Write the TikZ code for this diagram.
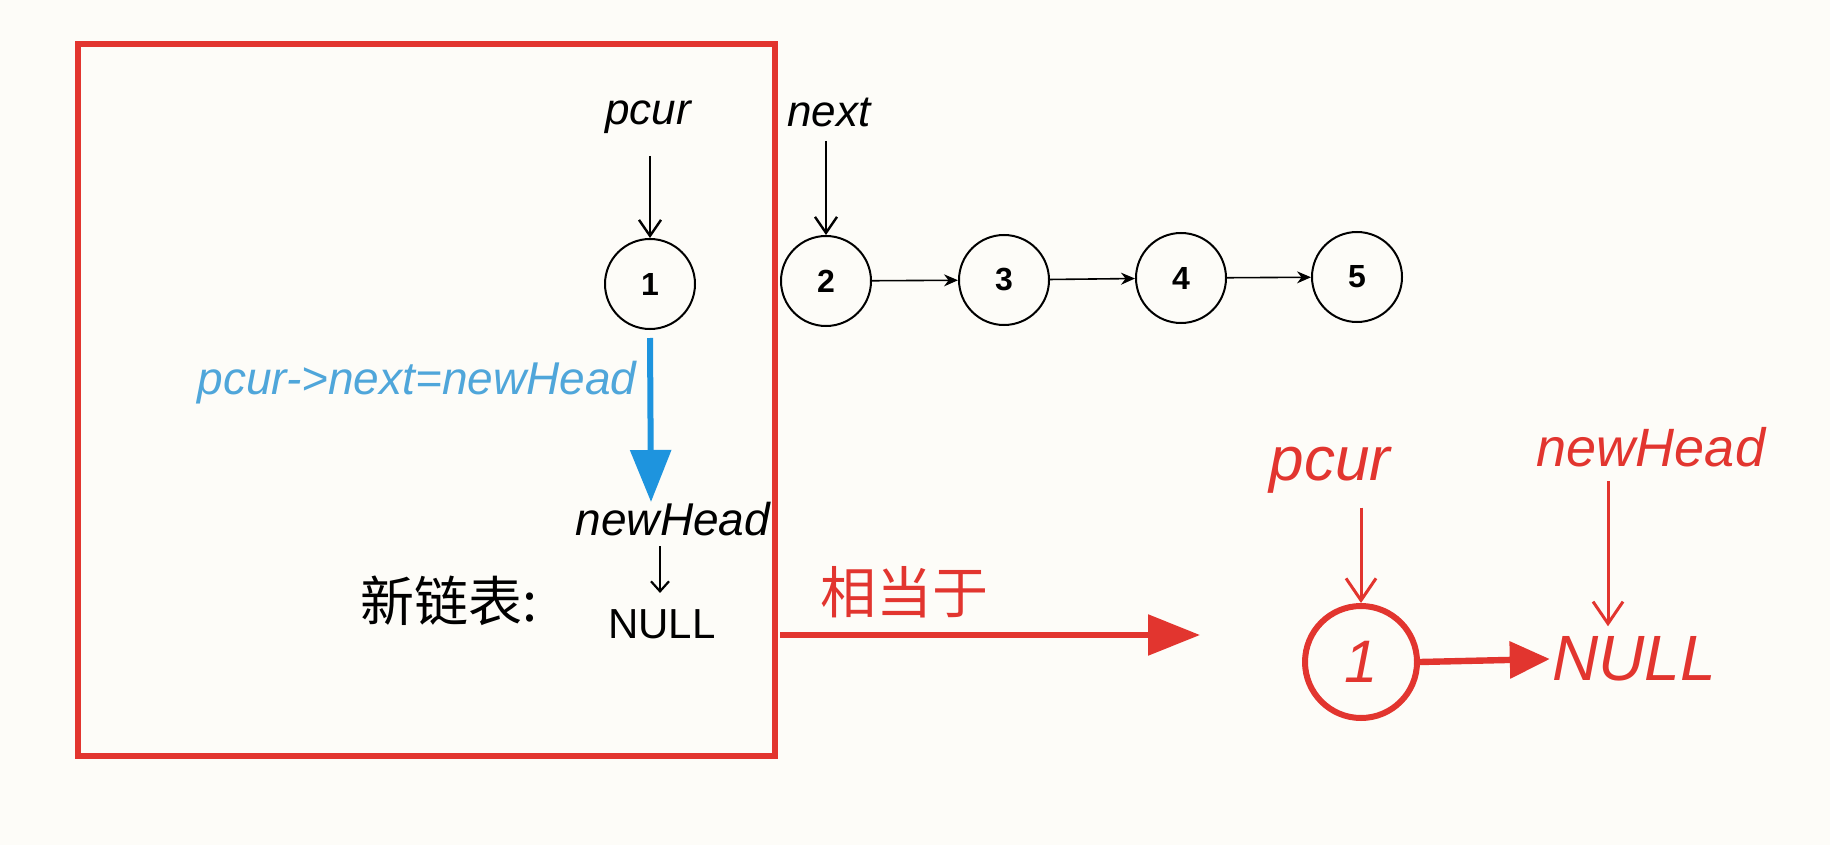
\documentclass[tikz,border=0pt]{standalone}
\usepackage{fontspec}
\setmainfont{Liberation Sans}
\newfontfamily\hand{Liberation Sans}[ItalicFont={* Italic}]
\newfontfamily\cjk{Noto Sans CJK SC}
\usetikzlibrary{arrows.meta}
\definecolor{bg}{HTML}{FDFCF8}
\definecolor{myred}{HTML}{E2352F}
\definecolor{myblue}{HTML}{1E94DE}
\definecolor{lblue}{HTML}{4FA6DA}
\begin{document}
\begin{tikzpicture}[x=0.5pt,y=-0.5pt,
  lnode/.style={circle,draw=black,line width=1pt,minimum size=45pt,inner sep=0pt,font=\fontsize{16}{16}\selectfont\bfseries},
  rnode/.style={circle,draw=myred,line width=3pt,minimum size=56pt,inner sep=0pt,text=myred,font=\fontsize{30}{30}\selectfont\itshape},
  blk/.style={font=\hand\itshape\fontsize{#1}{#1}\selectfont,inner sep=1pt},
  redtxt/.style={text=myred,font=\hand\itshape\fontsize{#1}{#1}\selectfont,inner sep=1pt},
  ptr/.style={-{Straight Barb[length=8pt,width=11pt]},line width=1.2pt},
  link/.style={-{Stealth[length=7pt,width=6pt]},line width=0.8pt},
  rptr/.style={-{Straight Barb[length=11pt,width=15pt]},line width=1.5pt,draw=myred},
  bigred/.style={-{Triangle[length=26pt,width=20pt]},line width=2.8pt,draw=myred},
  bigblue/.style={-{Triangle[length=26pt,width=20pt]},line width=3pt,draw=myblue}]
\useasboundingbox[fill=bg] (0,0) rectangle (1830,845);
% red frame
\node[draw=myred,line width=2.8pt,minimum width=348.5pt,minimum height=356pt,inner sep=0pt] (frame) at (426.5,400) {};
% list nodes
\node[lnode] (n1) at (650,284) {1};
\node[lnode] (n2) at (826,281) {2};
\node[lnode] (n3) at (1004,280) {3};
\node[lnode] (n4) at (1181,278) {4};
\node[lnode] (n5) at (1357,277) {5};
\draw[link] (n2) -- (n3);
\draw[link] (n3) -- (n4);
\draw[link] (n4) -- (n5);
% pointers
\node[blk=22] (pcur) at (648,117) {pcur};
\node[blk=22] (next) at (829,112) {next};
\draw[ptr] ([yshift=-10pt]pcur.south -| n1.north) -- (n1.north);
\draw[ptr] ([yshift=-6pt]next.south -| n2.north) -- (n2.north);
% blue arrow
\coordinate (bend) at (651,502);
\draw[bigblue] ([yshift=-4pt]n1.south) -- (bend);
\node[text=lblue,font=\hand\itshape\fontsize{23}{23}\selectfont] (blab) at (417,383) {pcur->next=newHead};
% new list
\node[blk=23] (nh) at (673,519) {newHead};
\node[font=\hand\fontsize{21}{21}\selectfont,inner sep=1pt] (null) at (662,624) {NULL};
\coordinate (nt) at ([xshift=-1pt,yshift=7pt]null.north);
\draw[-{Straight Barb[length=5pt,width=9pt]},line width=1.1pt] ([yshift=-4pt]nh.south -| nt) -- (nt);
\node[font=\cjk\fontsize{27}{27}\selectfont] (xlb) at (449,601) {新链表:};
% equivalence arrow
\coordinate (rs) at (780,635);
\coordinate (re) at (1200,635);
\draw[bigred] (rs) -- (re);
\node[text=myred,font=\cjk\fontsize{28}{28}\selectfont] (eq) at (904,592) {相当于};
% result
\node[rnode] (r1) at (1361,662) {1};
\node[redtxt=31] (rp) at (1330,470) {pcur};
\node[redtxt=27] (rnh) at (1651,447) {newHead};
\node[redtxt=32] (rnull) at (1634,659) {NULL};
\coordinate (rnt) at ([xshift=-13pt,yshift=4pt]rnull.north);
\draw[rptr] ([yshift=-6pt]rp.south -| r1.north) -- (r1.north);
\draw[rptr] ([yshift=-6pt]rnh.south -| rnt) -- (rnt);
\draw[-{Triangle[length=20pt,width=18pt]},line width=3.2pt,draw=myred] (r1.east) -- (rnull.west);
\end{tikzpicture}
\end{document}
